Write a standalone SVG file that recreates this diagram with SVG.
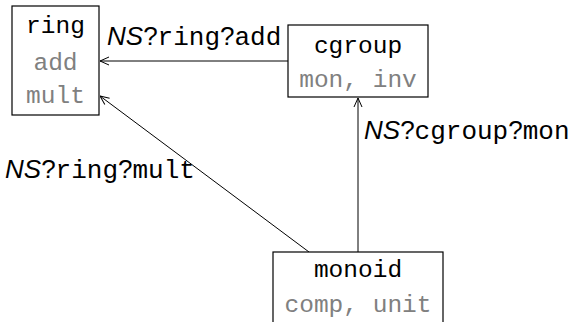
<svg xmlns="http://www.w3.org/2000/svg" width="574" height="322" viewBox="0 0 574 322">
  <defs>
    <marker id="arr" viewBox="0 0 10 10" refX="10" refY="5" markerWidth="10" markerHeight="10" markerUnits="userSpaceOnUse" orient="auto">
      <path d="M1,1 L10,5 L1,9" fill="none" stroke="#000" stroke-width="1"/>
    </marker>
  </defs>
  <style>
    .box { fill: #fff; stroke: #000; stroke-width: 1.2; }
    .tt { font-family: "Liberation Mono", "DejaVu Sans Mono", monospace; }
    .node { font-size: 24.5px; }
    .name { fill: #000; }
    .sub { fill: #808080; }
    .lbl { font-family: "Liberation Sans", "DejaVu Sans", sans-serif; font-size: 26px; fill: #000; }
    .it { font-style: italic; }
    .edge { stroke: #000; stroke-width: 1; fill: none; marker-end: url(#arr); }
  </style>

  <g id="connectors">
    <line class="edge" x1="288" y1="61" x2="100" y2="61"/>
    <line class="edge" x1="358" y1="252" x2="358" y2="98"/>
    <line class="edge" x1="309" y1="252" x2="100" y2="96"/>
    <text class="lbl" x="107" y="45"><tspan class="it">NS</tspan>?<tspan class="tt">ring</tspan>?<tspan class="tt">add</tspan></text>
    <text class="lbl" x="364" y="139"><tspan class="it">NS</tspan>?<tspan class="tt">cgroup</tspan>?<tspan class="tt">mon</tspan></text>
    <text class="lbl" x="5" y="178"><tspan class="it">NS</tspan>?<tspan class="tt">ring</tspan>?<tspan class="tt">mult</tspan></text>
  </g>

  <g id="ring">
    <rect class="box" x="12" y="6" width="87" height="109"/>
    <text class="tt node name" x="55.5" y="33" text-anchor="middle">ring</text>
    <text class="tt node sub" x="55.5" y="70" text-anchor="middle">add</text>
    <text class="tt node sub" x="55.5" y="103" text-anchor="middle">mult</text>
  </g>

  <g id="cgroup">
    <rect class="box" x="288" y="25" width="140" height="72"/>
    <text class="tt node name" x="358" y="53" text-anchor="middle">cgroup</text>
    <text class="tt node sub" x="358" y="87" text-anchor="middle">mon, inv</text>
  </g>

  <g id="monoid">
    <rect class="box" x="273" y="252" width="170" height="90"/>
    <text class="tt node name" x="358" y="277" text-anchor="middle">monoid</text>
    <text class="tt node sub" x="358" y="312" text-anchor="middle">comp, unit</text>
  </g>
</svg>
